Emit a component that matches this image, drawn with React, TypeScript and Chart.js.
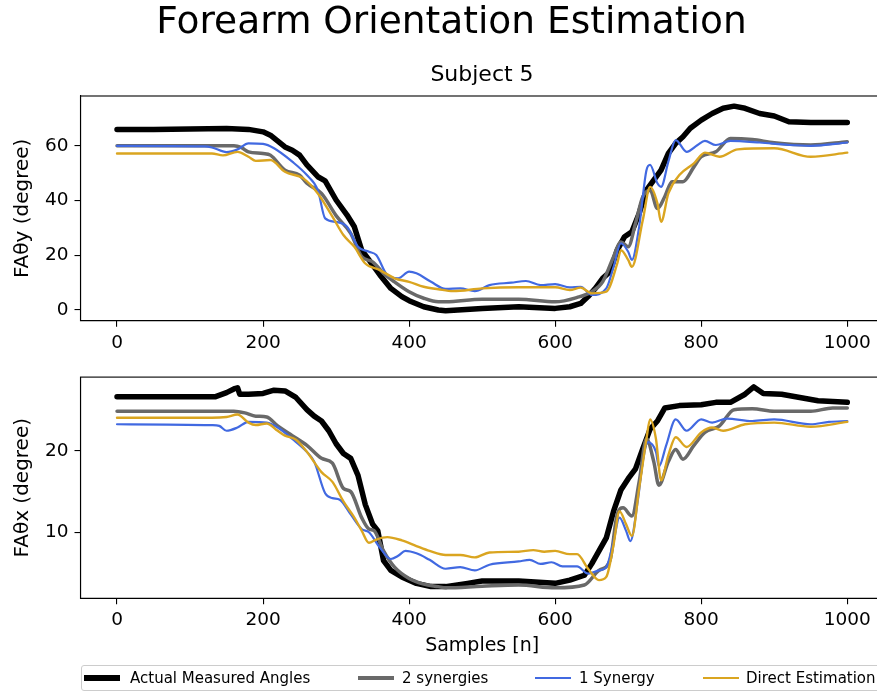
import React, { useEffect, useRef } from "react";
import { Chart, registerables } from "chart.js";

Chart.register(...registerables);

const FONT = "'DejaVu Sans', sans-serif";
const CANVAS_W = 902;

// ---------- labels ----------
const suptitle = "Forearm Orientation Estimation";
const subplotTitle = "Subject 5";
const topYLabel = "FAθy (degree)";
const bottomYLabel = "FAθx (degree)";
const xLabel = "Samples [n]";
const seriesNames = ["Actual Measured Angles", "2 synergies", "1 Synergy", "Direct Estimation"];
const seriesColors = ["#000000", "#696969", "#4169e1", "#daa520"];

// ---------- ticks ----------
const xTickValues = [0, 200, 400, 600, 800, 1000];
const topYTickValues = [0, 20, 40, 60];
const bottomYTickValues = [10, 20];

// ---------- top subplot (FAθy) ----------
const topActualX = [0, 50, 100, 150, 180, 200, 210, 230, 240, 250, 260, 275, 285, 300, 315, 325, 335, 345, 360, 375, 390, 400, 420, 440, 450, 500, 550, 600, 620, 635, 645, 655, 665, 675, 685, 695, 705, 715, 725, 735, 745, 755, 765, 775, 785, 800, 815, 830, 845, 860, 880, 900, 920, 950, 1000];
const topActualY = [66.0, 66.0, 66.1, 66.3, 66.0, 65.1, 63.9, 59.6, 58.4, 56.6, 53.0, 48.7, 47.2, 40.2, 34.7, 30.4, 21.9, 18.3, 12.8, 7.9, 4.9, 3.4, 1.2, 0.0, -0.3, 0.6, 1.2, 0.6, 1.2, 2.4, 4.9, 7.9, 11.6, 14.0, 21.9, 26.8, 28.6, 35.3, 43.8, 47.5, 51.1, 57.2, 60.9, 63.3, 66.4, 69.4, 71.8, 73.7, 74.5, 73.7, 71.8, 70.9, 68.8, 68.5, 68.5];

const topTwoSynX = [0, 100, 160, 170, 180, 200, 210, 230, 250, 260, 280, 300, 320, 335, 350, 365, 380, 400, 420, 440, 450, 500, 550, 600, 630, 650, 665, 680, 690, 700, 710, 720, 730, 740, 750, 760, 775, 790, 800, 820, 840, 870, 900, 950, 1000];
const topTwoSynY = [60.0, 60.0, 60.0, 59.4, 57.8, 57.2, 56.6, 51.1, 49.3, 46.3, 42.6, 34.5, 28.0, 19.5, 17.6, 13.4, 10.3, 6.7, 4.3, 3.0, 3.0, 3.9, 3.9, 3.0, 4.6, 6.7, 10.3, 19.5, 24.9, 23.1, 31.7, 41.4, 43.8, 37.1, 41.4, 46.9, 46.9, 52.3, 56.0, 57.8, 62.7, 62.3, 61.1, 60.3, 61.5];

const topOneSynX = [0, 120, 130, 150, 165, 180, 200, 215, 240, 260, 275, 285, 300, 315, 330, 345, 355, 370, 385, 400, 410, 430, 450, 470, 490, 510, 540, 560, 580, 600, 620, 635, 650, 670, 680, 690, 700, 705, 715, 725, 730, 740, 745, 755, 765, 780, 795, 805, 820, 840, 880, 920, 950, 1000];
const topOneSynY = [60.0, 59.8, 59.4, 57.7, 58.7, 60.9, 60.7, 59.1, 54.2, 49.3, 43.8, 33.5, 32.2, 30.4, 23.1, 21.3, 20.1, 12.8, 11.6, 14.0, 13.4, 10.3, 7.7, 7.9, 6.9, 9.1, 10.0, 10.6, 9.1, 9.5, 8.3, 8.5, 5.5, 7.9, 15.8, 24.4, 21.3, 18.3, 30.4, 51.1, 53.0, 46.3, 45.0, 54.2, 62.1, 57.8, 60.3, 61.8, 60.3, 61.8, 61.2, 60.3, 60.0, 61.2];

const topDirectX = [0, 130, 145, 165, 180, 190, 210, 230, 255, 275, 295, 310, 325, 340, 360, 380, 400, 420, 440, 460, 500, 550, 600, 620, 635, 650, 670, 685, 690, 700, 705, 720, 730, 740, 745, 755, 770, 790, 805, 825, 850, 900, 950, 1000];
const topDirectY = [57.2, 57.2, 56.5, 57.8, 56.0, 54.5, 54.8, 50.5, 48.1, 42.6, 34.1, 27.4, 23.1, 17.0, 14.6, 11.6, 10.3, 8.5, 7.6, 6.9, 7.9, 8.3, 8.3, 7.3, 8.2, 6.1, 6.7, 17.0, 21.9, 18.3, 15.8, 32.9, 45.0, 39.0, 32.2, 42.6, 49.3, 53.6, 57.5, 56.0, 58.7, 59.1, 56.0, 57.5];

// ---------- bottom subplot (FAθx) ----------
const botActualX = [0, 135, 150, 160, 165, 168, 180, 200, 215, 230, 245, 260, 270, 280, 290, 300, 310, 320, 330, 340, 350, 357, 365, 375, 390, 410, 430, 450, 480, 500, 550, 600, 620, 640, 650, 660, 670, 680, 690, 700, 710, 720, 730, 740, 750, 770, 800, 820, 840, 860, 872, 885, 910, 935, 960, 1000];
const botActualY = [26.7, 26.7, 27.2, 27.65, 27.8, 27.0, 27.0, 27.1, 27.5, 27.4, 26.6, 25.1, 24.3, 23.7, 22.5, 20.9, 19.7, 19.1, 17.0, 13.4, 11.0, 10.2, 6.5, 5.3, 4.5, 3.7, 3.3, 3.3, 3.7, 4.0, 4.0, 3.7, 4.1, 4.7, 6.1, 7.7, 9.3, 12.6, 15.2, 16.6, 17.8, 20.3, 22.7, 23.7, 25.3, 25.6, 25.7, 26.0, 26.0, 27.0, 27.9, 27.1, 27.0, 26.6, 26.2, 26.0];

const botTwoSynX = [0, 160, 175, 190, 205, 220, 240, 260, 280, 295, 310, 320, 335, 345, 352, 365, 380, 400, 420, 440, 450, 500, 550, 600, 640, 660, 675, 685, 693, 705, 715, 725, 735, 742, 755, 765, 775, 790, 805, 825, 845, 870, 900, 950, 980, 1000];
const botTwoSynY = [24.9, 24.9, 24.7, 24.3, 24.2, 23.1, 21.9, 20.7, 19.1, 18.5, 15.4, 15.0, 11.8, 10.4, 10.2, 7.7, 5.7, 4.3, 3.6, 3.3, 3.15, 3.35, 3.5, 3.15, 3.5, 5.3, 6.5, 12.2, 13.0, 12.0, 16.2, 21.5, 18.7, 15.8, 18.7, 20.2, 19.0, 20.7, 22.3, 23.1, 25.1, 25.2, 24.9, 24.9, 25.3, 25.3];

const botOneSynX = [0, 130, 140, 150, 165, 180, 205, 220, 240, 260, 270, 285, 295, 305, 320, 335, 345, 360, 375, 385, 395, 410, 428, 450, 470, 490, 510, 550, 565, 580, 595, 610, 630, 645, 660, 670, 680, 688, 697, 703, 713, 720, 727, 738, 742, 752, 765, 780, 800, 815, 835, 870, 900, 950, 975, 1000];
const botOneSynY = [23.3, 23.2, 23.1, 22.5, 22.9, 23.6, 23.5, 22.9, 21.5, 19.9, 18.7, 14.8, 14.2, 14.0, 12.2, 10.4, 10.0, 8.1, 6.7, 7.1, 7.7, 7.4, 6.6, 5.5, 5.7, 5.3, 6.0, 6.4, 6.6, 6.1, 6.3, 5.8, 5.8, 4.9, 5.3, 5.7, 8.9, 11.8, 10.2, 8.9, 13.8, 18.7, 21.1, 19.9, 18.1, 20.7, 23.9, 22.5, 23.9, 23.5, 24.0, 23.7, 23.9, 23.3, 23.6, 23.7];

const botDirectX = [0, 130, 150, 165, 180, 190, 205, 220, 230, 245, 260, 280, 295, 310, 325, 335, 345, 355, 370, 390, 410, 428, 450, 470, 490, 510, 550, 570, 585, 600, 620, 630, 645, 660, 670, 680, 688, 697, 705, 715, 725, 730, 738, 745, 755, 765, 780, 800, 815, 830, 860, 900, 950, 1000];
const botDirectY = [24.1, 24.1, 24.2, 24.5, 23.5, 23.2, 23.4, 22.5, 21.9, 21.4, 19.9, 17.4, 16.2, 13.8, 11.8, 10.2, 8.7, 9.1, 9.4, 9.0, 8.3, 7.7, 7.2, 7.2, 6.9, 7.5, 7.6, 7.8, 7.6, 7.7, 7.3, 7.3, 5.5, 4.1, 4.5, 8.5, 12.6, 11.0, 9.55, 15.4, 21.5, 23.9, 21.5, 16.4, 19.5, 21.7, 20.5, 22.3, 22.9, 22.5, 23.3, 23.5, 23.0, 23.6];

const lineWidths = [5.5, 3.5, 2.2, 2.4];

function toPoints(xs: number[], ys: number[]) {
  return xs.map((x, i) => ({ x, y: ys[i] }));
}

const framePlugin = {
  id: "frame",
  afterDatasetsDraw(chart: any) {
    const { ctx, chartArea: a } = chart;
    ctx.save();
    ctx.strokeStyle = "#000";
    ctx.lineWidth = 1.1;
    ctx.strokeRect(a.left, a.top, a.right - a.left, a.bottom - a.top);
    ctx.restore();
  },
};

type PanelSpec = {
  xs: number[][];
  ys: number[][];
  yMin: number;
  yMax: number;
  yTicks: number[];
  yLabel: string;
  padTop: number;
  xAxisHeight: number;
  showXTitle: boolean;
};

function makeConfig(p: PanelSpec): any {
  const datasets = p.xs.map((xArr, i) => ({
    label: seriesNames[i],
    data: toPoints(xArr, p.ys[i]),
    borderColor: seriesColors[i],
    backgroundColor: seriesColors[i],
    borderWidth: lineWidths[i],
    pointRadius: 0,
    fill: false,
    tension: 0,
    cubicInterpolationMode: i === 0 ? "default" : "monotone",
    borderJoinStyle: "round",
    borderCapStyle: "round",
    order: 4 - i,
  }));
  const tickFont = { family: FONT, size: 18.5 };
  return {
    type: "line",
    data: { datasets },
    options: {
      responsive: false,
      animation: false,
      devicePixelRatio: 1,
      layout: { padding: { top: p.padTop, right: CANVAS_W - 883.8, left: 0, bottom: 0 } },
      plugins: {
        legend: { display: false },
        tooltip: { enabled: false },
        title: { display: false },
      },
      scales: {
        x: {
          type: "linear",
          min: -50,
          max: 1050,
          afterBuildTicks: (s: any) => {
            s.ticks = xTickValues.map((v) => ({ value: v }));
          },
          afterFit: (s: any) => {
            s.height = p.xAxisHeight;
          },
          grid: { drawOnChartArea: false, drawTicks: true, tickLength: 6, color: "#000", tickColor: "#000", lineWidth: 1.1 },
          border: { display: true, color: "#000", width: 1.1 },
          ticks: { color: "#000", font: tickFont, padding: 5, maxRotation: 0, autoSkip: false, callback: (v: any) => String(v) },
          title: {
            display: p.showXTitle,
            text: xLabel,
            color: "#000",
            font: { family: FONT, size: 19 },
            padding: { top: 0, bottom: 36 },
          },
        },
        y: {
          type: "linear",
          min: p.yMin,
          max: p.yMax,
          afterBuildTicks: (s: any) => {
            s.ticks = p.yTicks.map((v) => ({ value: v }));
          },
          afterFit: (s: any) => {
            s.width = 80.5;
          },
          grid: { drawOnChartArea: false, drawTicks: true, tickLength: 6, color: "#000", tickColor: "#000", lineWidth: 1.1 },
          border: { display: true, color: "#000", width: 1.1 },
          ticks: { color: "#000", font: tickFont, padding: 6, autoSkip: false, callback: (v: any) => String(v) },
          title: {
            display: true,
            text: p.yLabel,
            color: "#000",
            font: { family: FONT, size: 20 },
            padding: { top: 11, bottom: 0 },
          },
        },
      },
    },
    plugins: [framePlugin],
  };
}

const legendItems = [
  { lineLeft: 84, textLeft: 130 },
  { lineLeft: 358, textLeft: 402 },
  { lineLeft: 535, textLeft: 579 },
  { lineLeft: 703, textLeft: 746 },
];

export default function App() {
  const topRef = useRef<HTMLCanvasElement | null>(null);
  const botRef = useRef<HTMLCanvasElement | null>(null);

  useEffect(() => {
    const top = new Chart(
      topRef.current as HTMLCanvasElement,
      makeConfig({
        xs: [topActualX, topTwoSynX, topOneSynX, topDirectX],
        ys: [topActualY, topTwoSynY, topOneSynY, topDirectY],
        yMin: -3.9,
        yMax: 78.2,
        yTicks: topYTickValues,
        yLabel: topYLabel,
        padTop: 96,
        xAxisHeight: 360 - 320.7,
        showXTitle: false,
      })
    );
    const bot = new Chart(
      botRef.current as HTMLCanvasElement,
      makeConfig({
        xs: [botActualX, botTwoSynX, botOneSynX, botDirectX],
        ys: [botActualY, botTwoSynY, botOneSynY, botDirectY],
        yMin: 1.86,
        yMax: 29.11,
        yTicks: bottomYTickValues,
        yLabel: bottomYLabel,
        padTop: 14,
        xAxisHeight: 693 - 598.3,
        showXTitle: true,
      })
    );
    return () => {
      top.destroy();
      bot.destroy();
    };
  }, []);

  const textBase: React.CSSProperties = {
    position: "absolute",
    fontFamily: FONT,
    color: "#000",
    whiteSpace: "nowrap",
  };

  return (
    <div
      style={{
        position: "fixed",
        left: 0,
        top: 0,
        width: 877,
        height: 693,
        overflow: "hidden",
        background: "#fff",
      }}
    >
      <canvas
        ref={topRef}
        width={CANVAS_W}
        height={360}
        style={{ position: "absolute", left: 0, top: 0, width: CANVAS_W, height: 360 }}
      />
      <canvas
        ref={botRef}
        width={CANVAS_W}
        height={333}
        style={{ position: "absolute", left: 0, top: 360, width: CANVAS_W, height: 333 }}
      />
      <div
        style={{
          ...textBase,
          left: 0,
          width: 903,
          top: 1.7,
          fontSize: 37.5,
          lineHeight: "37.5px",
          textAlign: "center",
        }}
      >
        {suptitle}
      </div>
      <div
        style={{
          ...textBase,
          left: 382,
          width: 200,
          top: 63.1,
          fontSize: 22,
          lineHeight: "22px",
          textAlign: "center",
        }}
      >
        {subplotTitle}
      </div>
      <div
        style={{
          position: "absolute",
          left: 81,
          top: 665,
          width: 840,
          height: 26,
          border: "1.5px solid #cccccc",
          borderRadius: 3,
          background: "rgba(255,255,255,0.8)",
          boxSizing: "border-box",
        }}
      />
      {legendItems.map((it, i) => (
        <React.Fragment key={i}>
          <div
            style={{
              position: "absolute",
              left: it.lineLeft,
              width: 36,
              top: 678 - lineWidths[i] / 2,
              height: lineWidths[i],
              background: seriesColors[i],
            }}
          />
          <div
            style={{
              ...textBase,
              left: it.textLeft,
              top: 670.6,
              fontSize: 15,
              lineHeight: "15px",
            }}
          >
            {seriesNames[i]}
          </div>
        </React.Fragment>
      ))}
    </div>
  );
}
